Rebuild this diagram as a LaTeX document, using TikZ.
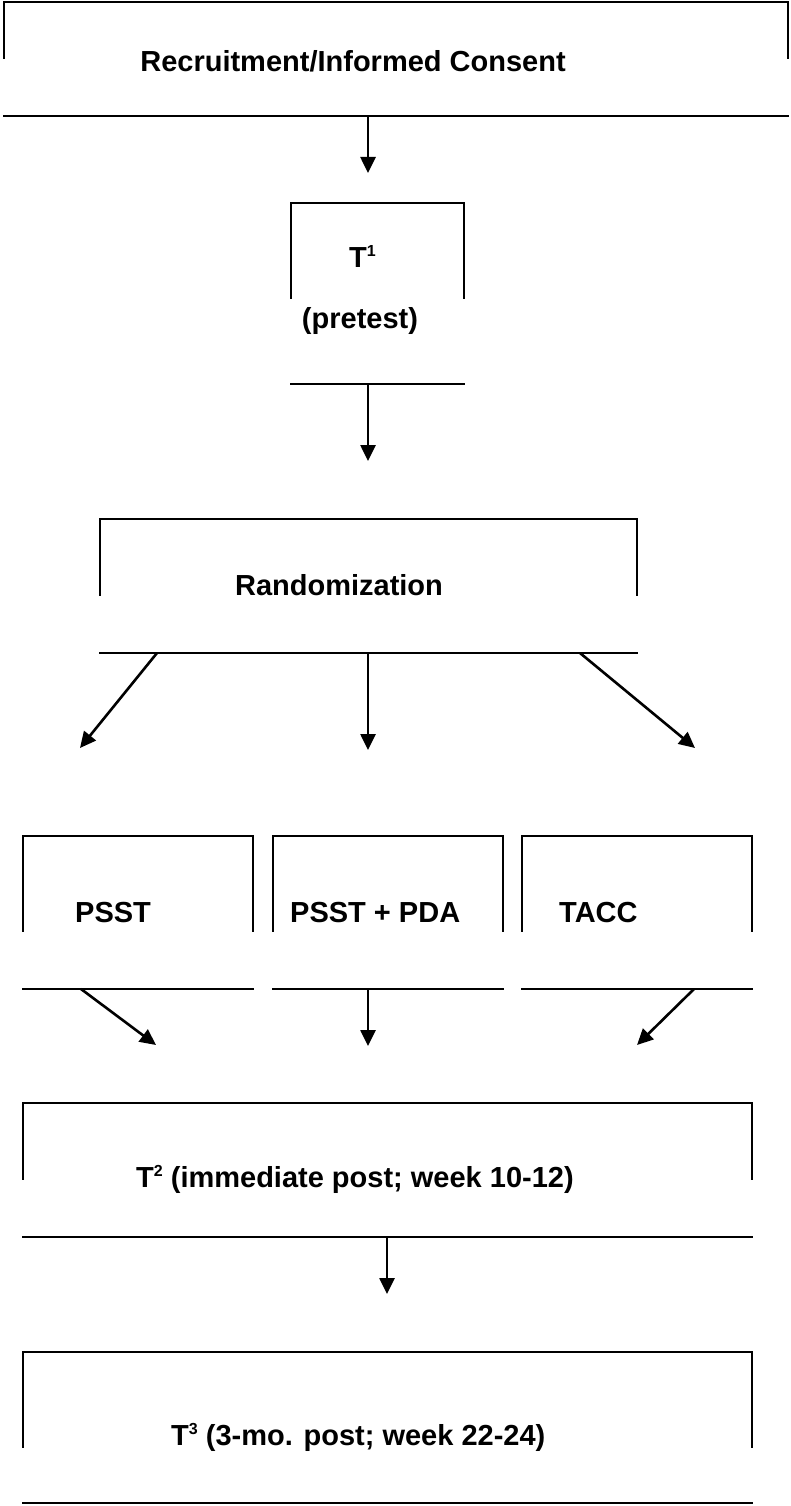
\documentclass[tikz,border=0pt]{standalone}
\usepackage{fontspec}
\setmainfont{Liberation Sans}
\usetikzlibrary{arrows.meta}
\tikzset{
  line/.style={line width=2.6pt, line cap=rect},
  arr/.style={line width=2.6pt, -{Triangle[length=16pt,width=15pt]}},
  lbl/.style={inner sep=0pt, font=\fontsize{29}{35}\selectfont\bfseries},
}
\newcommand{\mysup}[1]{\raisebox{11pt}{\fontsize{16}{16}\selectfont #1}}
\newcommand{\openbox}[5]{%
  \draw[line] (#1,#4) -- (#1,#3) -- (#2,#3) -- (#2,#4);
  \draw[line] (#1,#5) -- (#2,#5);}
\begin{document}
\begin{tikzpicture}[x=1pt,y=-1pt]
\useasboundingbox (0,0) rectangle (790,1506);
% open boxes: top with sides, separate bottom line
\openbox{4}{788}{2}{58}{116}
\openbox{291}{464}{203}{298}{384}
\openbox{100}{637}{519}{595}{653}
\openbox{23}{253}{836}{931}{989}
\openbox{273}{503}{836}{931}{989}
\openbox{522}{752}{836}{931}{989}
\openbox{23}{752}{1103}{1179}{1237}
\openbox{23}{752}{1352}{1447}{1503}
% texts
\node[lbl, anchor=base] (rec) at (353,72) {Recruitment/Informed Consent};
\node[lbl, anchor=base west] (t1) at (349,268) {T\mysup{1}};
\node[lbl, anchor=base] (pre) at (360,328) {(pretest)};
\node[lbl, anchor=base] (ran) at (339,595) {Randomization};
\node[lbl, anchor=base west] (psst) at (75,922) {PSST};
\node[lbl, anchor=base west] (pda) at (290,922) {PSST + PDA};
\node[lbl, anchor=base west] (tacc) at (559,922) {TACC};
\node[lbl, anchor=base west] (t2) at (136,1187) {T\mysup{2} (immediate post; week 10-12)};
\node[lbl, anchor=base west] (t3) at (171,1445) {T\mysup{3} (3-mo. post; week 22-24)};
% connector endpoints
\coordinate (a1s) at (368,116);  \coordinate (a1e) at (368,173);
\coordinate (a2s) at (368,384);  \coordinate (a2e) at (368,461);
\coordinate (rls) at (157,653);  \coordinate (rle) at (80,748);
\coordinate (rms) at (368,653);  \coordinate (rme) at (368,750);
\coordinate (rrs) at (580,653);  \coordinate (rre) at (695,748);
\coordinate (pls) at (81,989);   \coordinate (ple) at (156,1045);
\coordinate (pms) at (368,989);  \coordinate (pme) at (368,1046);
\coordinate (prs) at (694,989);  \coordinate (pre2) at (637,1045);
\coordinate (a3s) at (387,1237); \coordinate (a3e) at (387,1294);
\draw[arr] (a1s) -- (a1e);
\draw[arr] (a2s) -- (a2e);
\draw[arr] (rls) -- (rle);
\draw[arr] (rms) -- (rme);
\draw[arr] (rrs) -- (rre);
\draw[arr] (pls) -- (ple);
\draw[arr] (pms) -- (pme);
\draw[arr] (prs) -- (pre2);
\draw[arr] (a3s) -- (a3e);
\end{tikzpicture}
\end{document}
